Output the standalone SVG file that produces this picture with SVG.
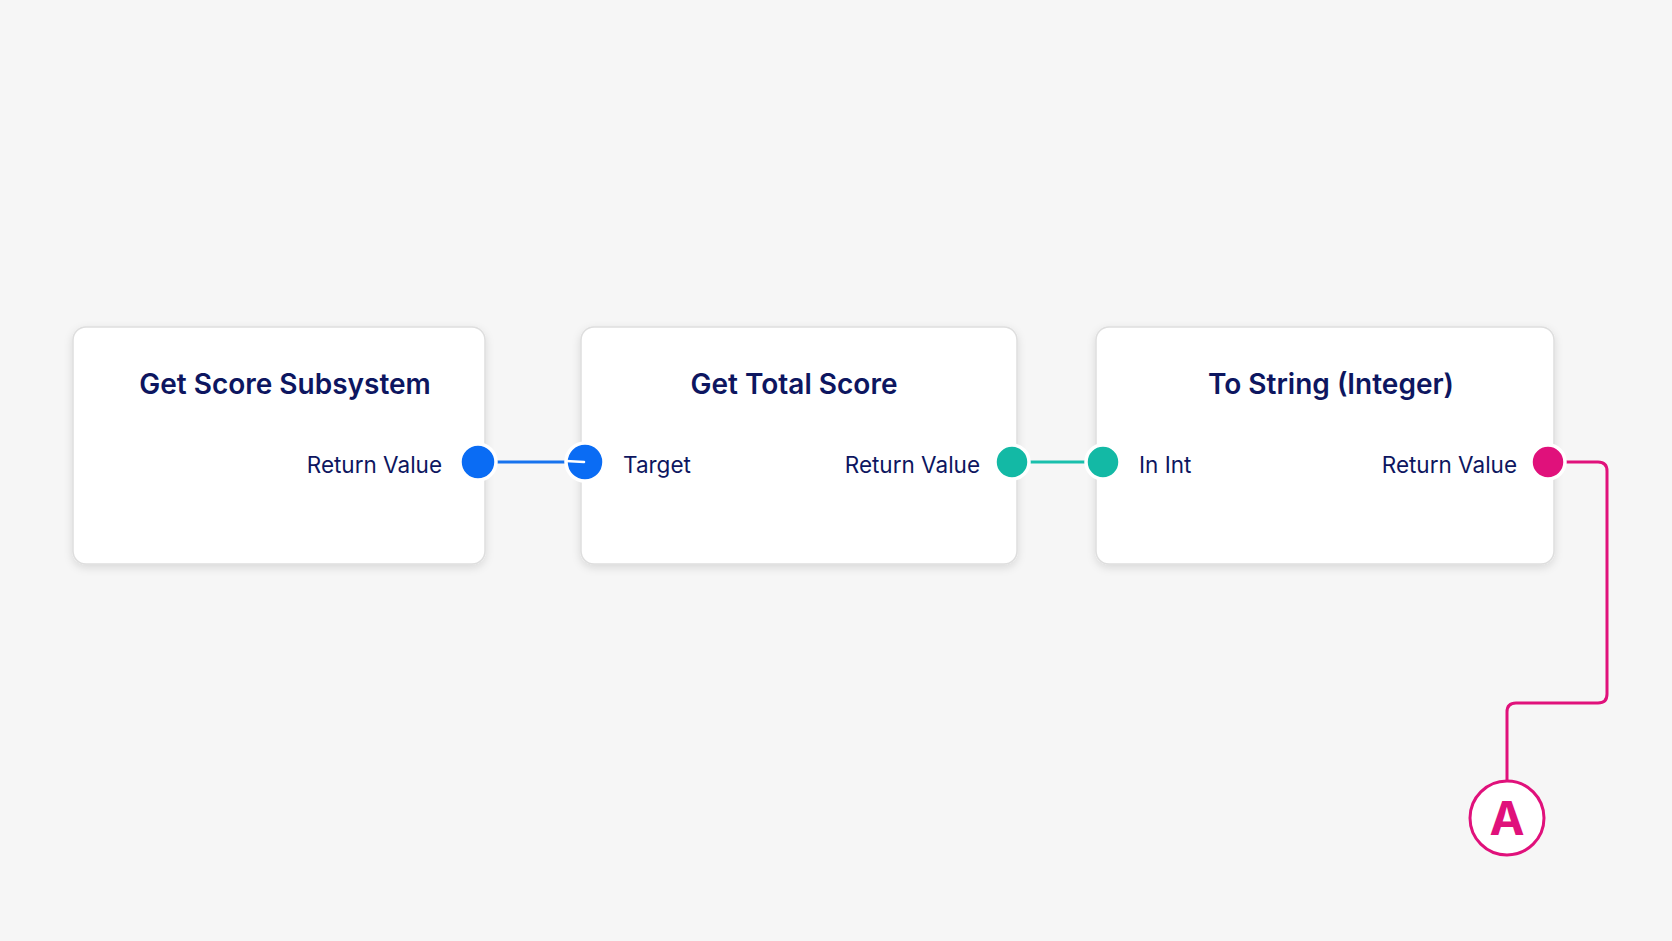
<svg xmlns="http://www.w3.org/2000/svg" width="1672" height="941" viewBox="0 0 1672 941">
<defs>
<filter id="sh" x="-10%" y="-10%" width="120%" height="130%">
<feDropShadow dx="0" dy="3" stdDeviation="4" flood-color="#000" flood-opacity="0.12"/>
</filter>
<style>
.box{fill:#ffffff;stroke:#dedede;stroke-width:1.5}
.title{font-family:Inter,"Liberation Sans",sans-serif;font-weight:600;font-size:28px;fill:#0d1660;text-anchor:middle}
.lbl{font-family:Inter,"Liberation Sans",sans-serif;font-size:22.5px;fill:#0d1660}
.r{text-anchor:end}
.port{stroke:#ffffff;stroke-width:3.5}
.wire{fill:none;stroke-width:3;stroke-linecap:round;stroke-linejoin:round}
</style>
</defs>
<rect width="1672" height="941" fill="#f6f6f6"/>
<g id="connectors">
<line class="wire" x1="495" y1="462" x2="585" y2="462" stroke="#1773ee"/>
<line class="wire" x1="1025" y1="462" x2="1092" y2="462" stroke="#19bfac"/>
<path class="wire" d="M1548 462 H1598 Q1607 462 1607 471 V694 Q1607 703 1598 703 H1516 Q1507 703 1507 712 V780" stroke="#e0117b"/>
</g>
<g id="node-get-score-subsystem">
<rect class="box" x="73" y="327" width="412" height="237" rx="13" filter="url(#sh)"/>
<text class="title" x="285" y="394">Get Score Subsystem</text>
<text class="lbl r" x="442" y="473">Return Value</text>
<circle class="port" cx="478" cy="462" r="18" fill="#0a6cf4"/>
</g>
<g id="node-get-total-score">
<rect class="box" x="581" y="327" width="436" height="237" rx="13" filter="url(#sh)"/>
<text class="title" x="794" y="394">Get Total Score</text>
<text class="lbl" x="623" y="473">Target</text>
<text class="lbl r" x="980" y="473">Return Value</text>
<circle class="port" cx="585" cy="462" r="19" fill="#0a6cf4"/>
<line x1="566" y1="461" x2="584" y2="462" stroke="#ffffff" stroke-width="2.5" stroke-linecap="round"/>
<circle class="port" cx="1012" cy="462" r="17" fill="#13b9a5"/>
</g>
<g id="node-to-string-integer">
<rect class="box" x="1096" y="327" width="458" height="237" rx="13" filter="url(#sh)"/>
<text class="title" x="1331" y="394">To String (Integer)</text>
<text class="lbl" x="1139" y="473">In Int</text>
<text class="lbl r" x="1517" y="473">Return Value</text>
<circle class="port" cx="1103" cy="462" r="17" fill="#13b9a5"/>
<circle class="port" cx="1548" cy="462" r="17" fill="#e0117b"/>
</g>
<g id="node-a">
<circle cx="1507" cy="818" r="37" fill="#ffffff" stroke="#e0117b" stroke-width="3"/>
<text x="1507" y="835" font-family="Inter,'Liberation Sans',sans-serif" font-weight="700" font-size="47" fill="#e0117b" text-anchor="middle">A</text>
</g>
</svg>
